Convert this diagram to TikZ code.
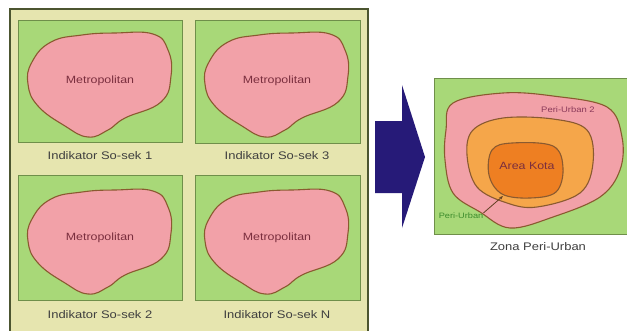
\documentclass[tikz,border=0pt]{standalone}
\usepackage{fontspec}
\setmainfont{Liberation Sans}
\usetikzlibrary{arrows.meta}

\definecolor{panelbg}{HTML}{E6E5AF}
\definecolor{panelline}{HTML}{4C5530}
\definecolor{field}{HTML}{A8D878}
\definecolor{fieldline}{HTML}{6F8F4A}
\definecolor{metro}{HTML}{F2A1A8}
\definecolor{blobline}{HTML}{8A5A30}
\definecolor{ringmid}{HTML}{F5A64A}
\definecolor{core}{HTML}{EE7F22}
\definecolor{navy}{HTML}{261A78}
\definecolor{labelgray}{HTML}{3F3F3F}
\definecolor{metrotext}{HTML}{7A2E3E}
\definecolor{ringtext}{HTML}{8B3A5A}
\definecolor{greentext}{HTML}{3C8C2C}

\tikzset{
  fieldbox/.style={draw=fieldline, line width=1pt, fill=field},
  blob/.style={draw=blobline, line width=1.1pt, fill=metro},
  caption/.style={text=labelgray, font=\fontsize{11}{13}\selectfont, inner sep=0pt},
  metrolabel/.style={text=metrotext, font=\fontsize{10.5}{12}\selectfont, inner sep=0pt},
}

% stretched text, the prints are wide
\newcommand{\wide}[1]{\scalebox{1.18}[1]{#1}}

% one city outline, drawn relative to the top-left corner of its square
\newcommand{\cityblob}[2]{%
  \begin{scope}[shift={(#1,#2)}]
    \draw[blob] plot[smooth cycle, tension=0.75] coordinates {
      (14,42) (33,22) (64,15) (97,13) (135,14) (150,30) (153,56)
      (143,82) (107,98) (90,110) (70,117) (47,106) (20,86) (10,64)};
  \end{scope}}

\begin{document}
\begin{tikzpicture}[x=1pt, y=-1pt]
\useasboundingbox (0,0) rectangle (627,330);
\clip (0,0) rectangle (627,330);
\fill[white] (0,0) rectangle (627,330);

% left panel with four indicator maps
\draw[panelline, line width=1.2pt, fill=panelbg] (10,9) rectangle (368,340);

\draw[fieldbox] (18,20) rectangle (182,142);
\draw[fieldbox] (195,20) rectangle (360,143);
\draw[fieldbox] (18,175) rectangle (182,300);
\draw[fieldbox] (195,175) rectangle (360,300);

\cityblob{18}{20}
\cityblob{195}{20}
\cityblob{18}{177}
\cityblob{195}{177}

\node[metrolabel] (m1) at (100,81) {\wide{Metropolitan}};
\node[metrolabel] (m3) at (277,81) {\wide{Metropolitan}};
\node[metrolabel] (m2) at (100,238) {\wide{Metropolitan}};
\node[metrolabel] (mn) at (277,238) {\wide{Metropolitan}};

\node[caption] (c1) at (100,156) {\wide{Indikator So-sek 1}};
\node[caption] (c3) at (277,156) {\wide{Indikator So-sek 3}};
\node[caption] (c2) at (100,315) {\wide{Indikator So-sek 2}};
\node[caption] (cn) at (277,315) {\wide{Indikator So-sek N}};

% block arrow
\fill[navy] (375,121) -- (402,121) -- (402,85) -- (425,157) -- (402,228)
  -- (402,193) -- (375,193) -- cycle;

% right panel: peri-urban zones
\draw[fieldbox] (434,78) rectangle (640,234);
\draw[blob] plot[smooth cycle, tension=0.6] coordinates {
  (453,103) (503,93) (553,96) (607,107) (622,137) (620,170) (600,197)
  (553,217) (510,228) (480,212) (453,193) (445,160) (446,130)};
\draw[blob, fill=ringmid] plot[smooth cycle, tension=0.6] coordinates {
  (473,130) (503,118) (553,119) (587,130) (593,163) (580,193)
  (537,207) (507,203) (477,187) (467,155)};
\draw[blob, fill=core] plot[smooth cycle, tension=0.6] coordinates {
  (492,150) (512,143) (553,146) (563,168) (556,192) (530,198)
  (502,194) (489,175)};

\node[inner sep=0pt, text=metrotext, font=\fontsize{10.5}{12}\selectfont]
  (kota) at (527,166) {\wide{Area Kota}};
\node[inner sep=0pt, text=ringtext, font=\fontsize{8}{10}\selectfont]
  (pu2) at (568,110) {\wide{Peri-Urban 2}};
\node[inner sep=0pt, text=greentext, font=\fontsize{7.8}{9}\selectfont]
  (pu) at (461,216) {\wide{Peri-Urban}};
\coordinate (ring) at (503,196);
\draw[blobline!70!black, line width=0.8pt, -{Stealth[length=4pt,width=3pt]}]
  (pu.north east) -- (ring);

\node[caption, font=\fontsize{11}{13}\selectfont] (zona) at (538,247)
  {\wide{Zona Peri-Urban}};
\end{tikzpicture}
\end{document}
